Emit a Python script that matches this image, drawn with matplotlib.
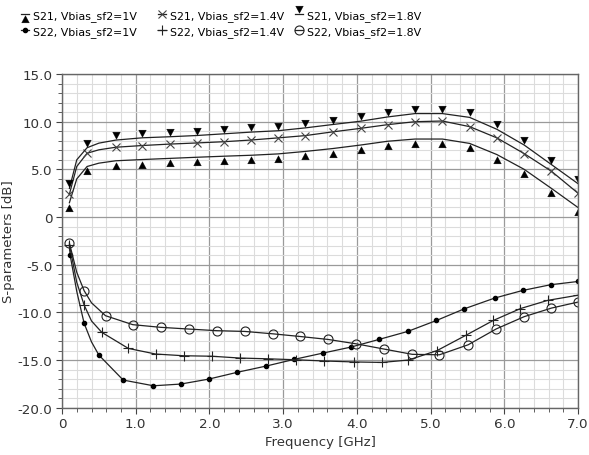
import matplotlib
matplotlib.use("Agg")
import matplotlib.pyplot as plt
from matplotlib.path import Path
from matplotlib.ticker import MultipleLocator, FixedLocator

plt.rcParams['font.family'] = ['DejaVu Sans']

# S21 curves (shared frequency grid, GHz)
s21_freq = [0.1, 0.2, 0.34, 0.5, 0.73, 1.09, 1.46, 1.83, 2.2, 2.57, 2.93, 3.3, 3.67,
            4.05, 4.42, 4.79, 5.16, 5.53, 5.9, 6.27, 6.64, 7.0]
s21_1v = [1.5, 4.0, 5.3, 5.65, 5.9, 6.03, 6.15, 6.27, 6.38, 6.48, 6.62, 6.88, 7.18,
          7.55, 7.95, 8.18, 8.18, 7.72, 6.55, 5.0, 3.0, 1.0]
s21_14v = [2.4, 5.3, 6.69, 7.05, 7.32, 7.5, 7.65, 7.77, 7.9, 8.08, 8.3, 8.54, 8.93,
           9.3, 9.69, 10.0, 10.07, 9.48, 8.3, 6.65, 4.8, 2.5]
s21_18v = [3.0, 6.0, 7.27, 7.75, 8.07, 8.31, 8.42, 8.55, 8.73, 8.91, 9.05, 9.35, 9.7,
           10.05, 10.5, 10.85, 10.85, 10.45, 9.2, 7.55, 5.5, 3.5]
s21_marks = [0, 2] + list(range(4, 22))

# S22 curves
s22_1v_freq = [0.1, 0.11, 0.2, 0.3, 0.4, 0.5, 0.83, 1.24, 1.61, 1.99, 2.38, 2.77, 3.15,
               3.54, 3.92, 4.30, 4.69, 5.08, 5.46, 5.87, 6.25, 6.63, 7.0]
s22_1v = [-3.0, -4.0, -7.8, -11.15, -13.1, -14.48, -17.1, -17.7, -17.52, -17.0, -16.28,
          -15.63, -14.93, -14.27, -13.64, -12.84, -12.0, -10.85, -9.62, -8.5, -7.7, -7.1, -6.76]
s22_1v_marks = [1, 3] + list(range(5, 23))

s22_14v_freq = [0.1, 0.2, 0.3, 0.4, 0.54, 0.9, 1.27, 1.65, 2.03, 2.41, 2.79, 3.17, 3.56,
                3.96, 4.34, 4.7, 5.09, 5.48, 5.85, 6.22, 6.59, 7.0]
s22_14v = [-2.9, -6.85, -9.23, -10.9, -12.1, -13.78, -14.37, -14.55, -14.6, -14.79, -14.87,
           -14.97, -15.1, -15.2, -15.25, -15.0, -14.0, -12.4, -10.85, -9.6, -8.74, -8.2]
s22_14v_marks = [0, 2] + list(range(4, 22))

s22_18v_freq = [0.1, 0.2, 0.3, 0.4, 0.59, 0.96, 1.34, 1.72, 2.1, 2.48, 2.86, 3.23, 3.61,
                3.99, 4.37, 4.75, 5.12, 5.51, 5.89, 6.27, 6.64, 7.0]
s22_18v = [-2.73, -5.8, -7.73, -9.0, -10.35, -11.29, -11.57, -11.75, -11.92, -12.0, -12.25,
           -12.53, -12.84, -13.3, -13.85, -14.4, -14.45, -13.4, -11.74, -10.45, -9.55, -8.92]
s22_18v_marks = [0, 2] + list(range(4, 22))

labels = ["S21, Vbias_sf2=1V", "S21, Vbias_sf2=1.4V", "S21, Vbias_sf2=1.8V",
          "S22, Vbias_sf2=1V", "S22, Vbias_sf2=1.4V", "S22, Vbias_sf2=1.8V"]
xticks = [0, 1, 2, 3, 4, 5, 6, 7]
yticks = [-20, -15, -10, -5, 0, 5, 10, 15]

# triangles hanging below / sitting above the data point
tri_up_below = Path([(-0.45, -1.0), (0.45, -1.0), (0.0, -0.15), (-0.45, -1.0)],
                    [Path.MOVETO, Path.LINETO, Path.LINETO, Path.CLOSEPOLY])
tri_down_above = Path([(-0.45, 1.0), (0.45, 1.0), (0.0, 0.15), (-0.45, 1.0)],
                      [Path.MOVETO, Path.LINETO, Path.LINETO, Path.CLOSEPOLY])

fig = plt.figure(figsize=(5.89, 4.56), dpi=100)
ax = fig.add_axes([0.1053, 0.1037, 0.876, 0.7318])

lc = '#222222'
lw = 0.9
h1, = ax.plot(s21_freq, s21_1v, color=lc, lw=lw, marker=tri_up_below, ms=12,
              mfc='black', mec='black', mew=0.3, markevery=s21_marks)
h2, = ax.plot(s21_freq, s21_14v, color=lc, lw=lw, marker='x', ms=6, mec='#444444',
              mew=0.8, markevery=s21_marks)
h3, = ax.plot(s21_freq, s21_18v, color=lc, lw=lw, marker=tri_down_above, ms=12,
              mfc='black', mec='black', mew=0.3, markevery=s21_marks)
h4, = ax.plot(s22_1v_freq, s22_1v, color=lc, lw=lw, marker='o', ms=3,
              mfc='black', mec='black', markevery=s22_1v_marks)
h5, = ax.plot(s22_14v_freq, s22_14v, color=lc, lw=lw, marker='+', ms=7, mec='#222222',
              mew=0.8, markevery=s22_14v_marks)
h6, = ax.plot(s22_18v_freq, s22_18v, color=lc, lw=lw, marker='o', ms=6.5, mfc='none',
              mec='#222222', mew=0.8, markevery=s22_18v_marks)

ax.set_xlim(0, 7)
ax.set_ylim(-20, 15)
ax.xaxis.set_major_locator(FixedLocator(xticks))
ax.xaxis.set_minor_locator(MultipleLocator(0.2))
ax.yaxis.set_major_locator(FixedLocator(yticks))
ax.yaxis.set_minor_locator(MultipleLocator(1))
ax.set_xticklabels(["0" if v == 0 else f"{v:.1f}" for v in xticks])
ax.set_yticklabels(["0" if v == 0 else f"{v:.1f}" for v in yticks])

ax.grid(which='minor', color='#dcdcdc', lw=0.8)
ax.grid(which='major', color='#9a9a9a', lw=0.9)
ax.set_axisbelow(True)
for s in ax.spines.values():
    s.set_color('#666666')
    s.set_linewidth(1.0)
ax.tick_params(which='both', direction='out', color='#444444', labelsize=9.7,
               labelcolor='#333333', top=False, right=False)
ax.tick_params(which='major', length=4, pad=3)
ax.tick_params(which='minor', length=3)

ax.set_xlabel("Frequency [GHz]", fontsize=9.5, color='#333333', labelpad=3)
ax.set_ylabel("S-parameters [dB]", fontsize=9.5, color='#333333', labelpad=2)

# legend: three single-column blocks above the plot
handles = [h1, h2, h3, h4, h5, h6]
col_x = [21, 158, 295]
for i, x in enumerate(col_x):
    fig.legend([handles[i], handles[i + 3]], [labels[i], labels[i + 3]],
               loc='upper left', bbox_to_anchor=(x / 589, 1 - 11 / 456), ncol=1,
               frameon=False, fontsize=7.9, handlelength=0.7, handletextpad=0.35,
               labelspacing=0.45, borderpad=0, borderaxespad=0)

fig.savefig("out.png", dpi=100, facecolor='white')
